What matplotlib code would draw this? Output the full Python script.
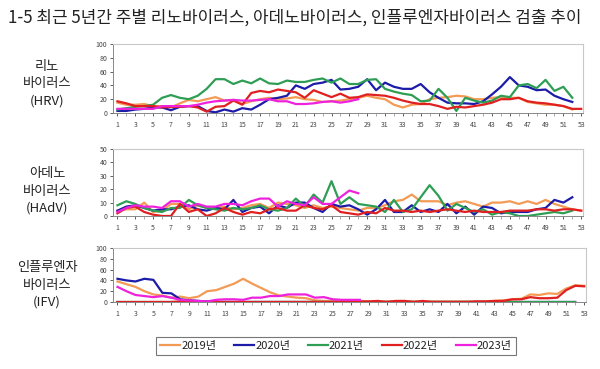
import matplotlib.pyplot as plt
import numpy as np

plt.rcParams['font.family'] = ['Noto Sans CJK KR', 'DejaVu Sans']

weeks = np.arange(1, 54)
years = ['2019년', '2020년', '2021년', '2022년', '2023년']
colors = ['#F39A55', '#1C1CA8', '#2E9E55', '#E02020', '#EE22DD']

# 리노바이러스 (HRV)
hrv_2019 = [15, 12, 12, 13, 10, 10, 8, 14, 19, 17, 20, 23, 18, 19, 13, 17, 20, 22, 20, 21,
            23, 20, 19, 16, 17, 18, 20, 22, 25, 22, 20, 12, 8, 12, 13, 20, 22, 23, 25, 24,
            20, 20, 22, 23, 22, 22, 16, 14, 12, 12, 10, 5]
hrv_2020 = [3, 3, 5, 6, 8, 8, 4, 9, 10, 10, 3, 1, 5, 2, 7, 5, 12, 20, 22, 25,
            40, 35, 42, 44, 48, 34, 35, 38, 49, 33, 44, 38, 35, 35, 42, 30, 22, 15, 14, 14,
            13, 17, 27, 38, 52, 40, 38, 33, 34, 25, 20, 16]
hrv_2021 = [5, 7, 9, 10, 12, 22, 26, 22, 20, 25, 35, 49, 49, 42, 47, 43, 50, 43, 42, 47,
            45, 45, 48, 50, 44, 50, 42, 42, 48, 49, 35, 31, 28, 26, 17, 18, 35, 22, 3, 22,
            18, 15, 18, 25, 23, 40, 42, 36, 48, 32, 38, 22]
hrv_2022 = [17, 14, 10, 10, 10, 8, 9, 9, 10, 8, 2, 9, 10, 18, 12, 29, 32, 30, 34, 32,
            30, 22, 33, 28, 23, 28, 22, 23, 27, 26, 25, 22, 18, 15, 13, 13, 10, 6, 9, 8,
            10, 12, 15, 20, 20, 22, 17, 15, 14, 12, 10, 6, 6]
hrv_2023 = [6, 6, 6, 6, 6, 10, 10, 10, 10, 12, 15, 17, 18, 19, 18, 18, 19, 20, 17, 17,
            13, 13, 14, 16, 17, 15, 17, 20]

# 아데노바이러스 (HAdV)
hadv_2019 = [4, 5, 5, 10, 3, 4, 9, 9, 5, 8, 6, 6, 7, 5, 6, 8, 9, 6, 10, 9,
             8, 6, 8, 6, 7, 6, 5, 4, 6, 6, 8, 11, 12, 16, 11, 11, 11, 8, 10, 11,
             9, 7, 10, 10, 11, 9, 11, 9, 12, 9, 7, 5, 4]
hadv_2020 = [4, 7, 8, 6, 4, 5, 5, 7, 8, 5, 4, 6, 5, 12, 3, 6, 7, 2, 8, 6,
             10, 10, 6, 3, 9, 7, 8, 5, 1, 5, 12, 3, 3, 8, 3, 5, 3, 9, 2, 7,
             1, 7, 6, 2, 3, 3, 3, 5, 6, 12, 10, 14]
hadv_2021 = [8, 11, 9, 6, 4, 3, 6, 6, 12, 8, 6, 5, 4, 6, 5, 6, 8, 5, 4, 6,
             13, 7, 16, 10, 26, 9, 14, 9, 8, 7, 3, 12, 3, 5, 14, 23, 15, 4, 9, 6,
             3, 5, 1, 3, 2, 0, 0, 1, 2, 3, 2, 4]
hadv_2022 = [2, 6, 7, 3, 1, 0, 0, 9, 3, 5, 0, 2, 6, 3, 1, 3, 2, 5, 6, 4,
             4, 8, 6, 5, 8, 3, 2, 1, 3, 2, 6, 4, 4, 3, 4, 3, 4, 5, 4, 3,
             4, 3, 3, 3, 4, 4, 4, 5, 5, 4, 5, 5, 4]
hadv_2023 = [3, 6, 8, 7, 7, 6, 11, 11, 7, 9, 7, 7, 9, 9, 8, 11, 13, 13, 7, 11,
             9, 8, 14, 9, 9, 14, 19, 17]

# 인플루엔자바이러스 (IFV)
ifv_2019 = [38, 33, 28, 20, 14, 12, 8, 10, 7, 10, 20, 22, 28, 34, 43, 34, 26, 18, 12, 10,
            8, 7, 3, 2, 2, 1, 1, 1, 1, 0, 1, 1, 1, 1, 1, 1, 1, 1, 1, 1,
            1, 1, 2, 3, 5, 6, 14, 13, 16, 15, 25, 31, 30]
ifv_2020 = [43, 40, 38, 43, 41, 17, 16, 5, 3, 2, 1, 0, 0, 0, 0, 0, 0, 0, 0, 0,
            0, 0, 0, 0, 0, 0, 0, 0, 0, 0, 0, 0, 0, 0, 0, 0, 0, 0, 0, 0,
            0, 0, 0, 0, 0, 0, 0, 0, 0, 0, 0, 0]
ifv_2021 = [0] * 52
ifv_2022 = [0, 0, 0, 0, 0, 0, 0, 1, 1, 1, 0, 0, 0, 0, 0, 0, 0, 0, 0, 0,
            0, 0, 0, 0, 0, 0, 0, 1, 1, 2, 0, 2, 2, 0, 2, 0, 0, 0, 0, 0,
            1, 1, 2, 2, 5, 5, 9, 7, 7, 8, 22, 30, 29]
ifv_2023 = [28, 20, 13, 11, 9, 11, 8, 4, 3, 2, 1, 4, 5, 5, 4, 8, 8, 11, 11, 14,
            14, 14, 8, 9, 5, 4, 4, 4]

panels = [
    ('리노\n바이러스\n(HRV)', [hrv_2019, hrv_2020, hrv_2021, hrv_2022, hrv_2023],
     100, 20, [113, 44, 583, 113], 84),
    ('아데노\n바이러스\n(HAdV)', [hadv_2019, hadv_2020, hadv_2021, hadv_2022, hadv_2023],
     50, 10, [113, 149, 583, 216], 191),
    ('인플루엔자\n바이러스\n(IFV)', [ifv_2019, ifv_2020, ifv_2021, ifv_2022, ifv_2023],
     100, 20, [113, 248, 586, 302], 285),
]

W, H = 600, 369
fig = plt.figure(figsize=(6, 3.69), dpi=100)
fig.patch.set_facecolor('white')

fig.text(8 / W, 1 - 18 / H, '1-5 최근 5년간 주별 리노바이러스, 아데노바이러스, 인플루엔자바이러스 검출 추이',
         fontsize=12.2, va='center', ha='left', color='#222222')

handles = []
for label, series, ymax, ystep, (x0, y0, x1, y1), ly in panels:
    ax = fig.add_axes([x0 / W, 1 - y1 / H, (x1 - x0) / W, (y1 - y0) / H])
    for vals, c, yr in zip(series, colors, years):
        ln, = ax.plot(weeks[:len(vals)], vals, color=c, lw=1.6, label=yr)
        if len(handles) < 5:
            handles.append(ln)
    ax.set_xlim(0.5, 53.2)
    ax.set_ylim(0, ymax)
    ax.set_xticks(np.arange(1, 54, 2))
    ax.set_xticks(weeks, minor=True)
    ax.set_yticks(np.arange(0, ymax + 1, ystep))
    ax.tick_params(axis='both', labelsize=5, colors='#444444', length=2, width=0.6, pad=2)
    ax.tick_params(axis='x', which='minor', length=2, width=0.5, colors='#888888')
    ax.tick_params(axis='x', pad=4)
    for s in ['top', 'right']:
        ax.spines[s].set_color('#c8c8c8')
        ax.spines[s].set_linewidth(0.8)
    for s in ['left', 'bottom']:
        ax.spines[s].set_color('#888888')
        ax.spines[s].set_linewidth(0.7)
    ax.set_facecolor('white')
    fig.text(47 / W, 1 - ly / H, label, ha='center', va='center', fontsize=9.5,
             color='#222222', linespacing=1.45)

leg = fig.legend(handles=handles, loc='center', bbox_to_anchor=(336 / W, 1 - 346 / H),
                 ncol=5, fontsize=8, frameon=True, fancybox=False, edgecolor='#555555',
                 handlelength=1.8, handletextpad=0.1, columnspacing=1.6,
                 borderpad=0.4)
leg.get_frame().set_linewidth(0.8)
for t in leg.get_texts():
    t.set_color('#222222')

fig.savefig('out.png', dpi=100, facecolor='white')
